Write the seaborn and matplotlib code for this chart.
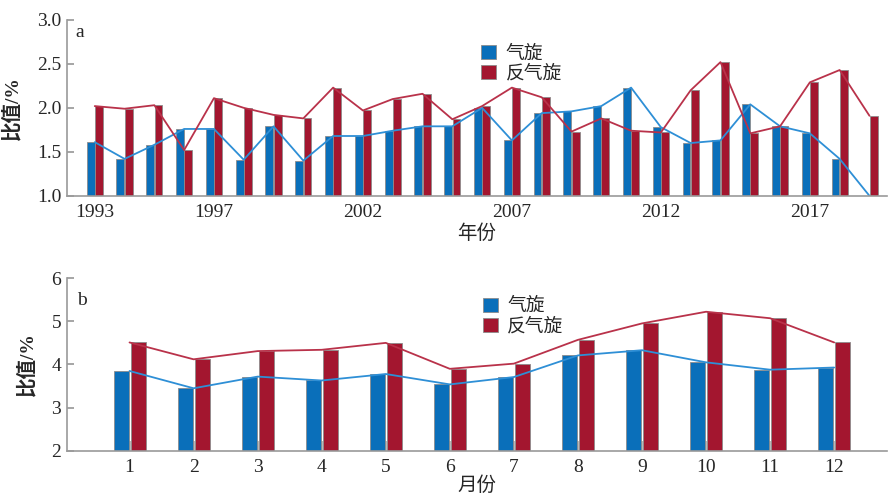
import numpy as np
import pandas as pd
import matplotlib
matplotlib.use("Agg")
import matplotlib.pyplot as plt
import seaborn as sns

# annual ratio (%), 1993-2019
years = list(range(1993, 2020))
cyclone_year = [1.61, 1.42, 1.58, 1.76, 1.76, 1.41, 1.79, 1.40, 1.68, 1.68,
                1.74, 1.79, 1.79, 2.00, 1.63, 1.94, 1.96, 2.02, 2.23, 1.78,
                1.60, 1.63, 2.04, 1.79, 1.71, 1.42, 1.00]
anticyclone_year = [2.02, 1.99, 2.03, 1.52, 2.11, 2.00, 1.92, 1.88, 2.23, 1.97,
                    2.10, 2.16, 1.87, 2.02, 2.23, 2.12, 1.73, 1.88, 1.74, 1.72,
                    2.20, 2.52, 1.71, 1.79, 2.29, 2.43, 1.91]
year_ticks = [1993, 1997, 2002, 2007, 2012, 2017]

# monthly ratio (%)
months = list(range(1, 13))
cyclone_month = [3.85, 3.45, 3.72, 3.63, 3.78, 3.54, 3.71, 4.21, 4.33, 4.05, 3.88, 3.93]
anticyclone_month = [4.51, 4.12, 4.31, 4.34, 4.50, 3.90, 4.02, 4.57, 4.95, 5.22, 5.07, 4.51]

names = ["气旋", "反气旋"]
bar_colors = ["#0a6fba", "#a3162f"]
line_colors = ["#2e8fd6", "#b9324a"]

sns.set_theme(style="ticks")
plt.rcParams["font.family"] = ["Liberation Serif", "Noto Sans CJK SC"]
plt.rcParams["axes.unicode_minus"] = False


def long_table(xs, a, b):
    return pd.DataFrame({
        "x": xs * 2,
        "v": a + b,
        "type": [names[0]] * len(xs) + [names[1]] * len(xs),
    })


def style_axis(ax):
    for s in ["top", "right"]:
        ax.spines[s].set_visible(False)
    for s in ["left", "bottom"]:
        ax.spines[s].set_color("#9a9a9a")
        ax.spines[s].set_linewidth(1.2)
    ax.tick_params(axis="y", direction="in", length=5, color="#9a9a9a",
                   labelsize=14, pad=4)
    ax.tick_params(axis="x", direction="in", length=7, color="#b0b0b0",
                   labelsize=14, pad=6)


def legend(ax, x, y):
    h, l = ax.get_legend_handles_labels()
    ax.legend(h[:2], l[:2], loc="upper left", bbox_to_anchor=(x, y),
              frameon=False, fontsize=13.5, handlelength=0.8, handleheight=0.8,
              handletextpad=0.5, labelspacing=0.12, borderaxespad=0)


fig = plt.figure(figsize=(8.9, 4.97), dpi=100)

# ---- panel a ----
ax1 = fig.add_axes([0.075, 0.606, 0.922, 0.354])
df1 = long_table(years, cyclone_year, anticyclone_year)
sns.barplot(data=df1, x="x", y="v", hue="type", palette=bar_colors,
            saturation=1, width=0.56, gap=0.05, edgecolor="#8c8c8c",
            linewidth=0.6, ax=ax1, legend=True)
idx = np.arange(len(years))
sns.lineplot(x=idx, y=cyclone_year, color=line_colors[0], lw=1.3, ax=ax1, legend=False)
sns.lineplot(x=idx, y=anticyclone_year, color=line_colors[1], lw=1.3, ax=ax1, legend=False)
ax1.set_ylim(1.0, 3.0)
ax1.set_yticks([1.0, 1.5, 2.0, 2.5, 3.0])
ax1.set_yticklabels(["1.0", "1.5", "2.0", "2.5", "3.0"])
ax1.set_xlim(-0.94, 26.6)
ax1.set_xticks([years.index(y) for y in year_ticks])
ax1.set_xticklabels([str(y) for y in year_ticks])
style_axis(ax1)
ax1.set_ylabel("比值/%", fontsize=14, fontweight="bold")
ax1.yaxis.set_label_coords(-0.055, 0.5)
ax1.set_xlabel("年份", fontsize=14, va="center")
ax1.xaxis.set_label_coords(0.5, -0.215)
ax1.text(0.01, 0.93, "a", transform=ax1.transAxes, fontsize=14, va="center")
legend(ax1, 0.496, 0.9)

# ---- panel b ----
ax2 = fig.add_axes([0.075, 0.0926, 0.922, 0.348])
df2 = long_table(months, cyclone_month, anticyclone_month)
sns.barplot(data=df2, x="x", y="v", hue="type", palette=bar_colors,
            saturation=1, width=0.532, gap=0.12, edgecolor="#8c8c8c",
            linewidth=0.6, ax=ax2, legend=True)
idx2 = np.arange(len(months))
sns.lineplot(x=idx2, y=cyclone_month, color=line_colors[0], lw=1.3, ax=ax2, legend=False)
sns.lineplot(x=idx2, y=anticyclone_month, color=line_colors[1], lw=1.3, ax=ax2, legend=False)
ax2.set_ylim(2, 6)
ax2.set_yticks([2, 3, 4, 5, 6])
ax2.set_xlim(-0.98, 11.83)
ax2.set_xticks(idx2)
ax2.set_xticklabels([str(m) for m in months])
style_axis(ax2)
ax2.set_ylabel("比值/%", fontsize=14, fontweight="bold")
ax2.yaxis.set_label_coords(-0.037, 0.5)
ax2.set_xlabel("月份", fontsize=14, va="center")
ax2.xaxis.set_label_coords(0.5, -0.2)
ax2.text(0.012, 0.87, "b", transform=ax2.transAxes, fontsize=14, va="center")
legend(ax2, 0.498, 0.93)

fig.savefig("out.png", dpi=100)
